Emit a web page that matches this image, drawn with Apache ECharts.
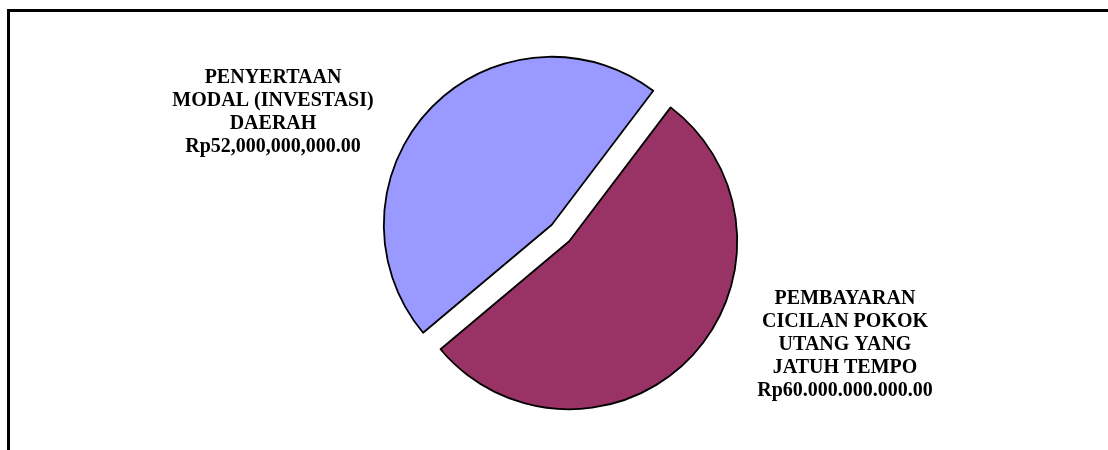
<!DOCTYPE html>
<html>
<head>
<meta charset="utf-8">
<script src="https://cdn.jsdelivr.net/npm/echarts@6/dist/echarts.min.js"></script>
<style>
  html, body { margin: 0; padding: 0; background: #fff; }
  #chart { width: 1108px; height: 450px; }
</style>
</head>
<body>
<div id="chart"></div>
<script>
// Budget allocation: two expenditure items
const categories = [
  'PENYERTAAN\nMODAL (INVESTASI)\nDAERAH',
  'PEMBAYARAN\nCICILAN POKOK\nUTANG YANG\nJATUH TEMPO'
];
const values = [52000000000, 60000000000];
const valueLabels = ['Rp52,000,000,000.00', 'Rp60.000.000.000.00'];
const colors = ['#9999FF', '#993366'];

// label block centres, in pixels
const labelAnchors = [[273, 112.5], [845, 345]];

const chart = echarts.init(document.getElementById('chart'), null, { renderer: 'canvas' });

const data = categories.map((name, i) => ({
  name: name,
  value: values[i],
  selected: true,
  itemStyle: { color: colors[i] },
  select: { itemStyle: { color: colors[i], borderColor: '#000', borderWidth: 1.8 } }
}));

// slice captions: name followed by the amount
const captions = categories.map((name, i) => ({
  type: 'text',
  silent: true,
  x: labelAnchors[i][0],
  y: labelAnchors[i][1],
  style: {
    text: name + '\n' + valueLabels[i],
    fill: '#000',
    font: 'bold 20px "Liberation Serif"',
    lineHeight: 23,
    align: 'center',
    verticalAlign: 'middle'
  }
}));

chart.setOption({
  animation: false,
  backgroundColor: '#fff',
  graphic: [{
    type: 'rect',
    silent: true,
    shape: { x: 8.5, y: 10.5, width: 1200, height: 600 },
    style: { fill: 'none', stroke: '#000', lineWidth: 3 }
  }].concat(captions),
  series: [{
    type: 'pie',
    center: [560.5, 233],
    radius: 168,
    startAngle: 220,
    clockwise: true,
    selectedMode: 'multiple',
    selectedOffset: 12,
    silent: true,
    emphasis: { disabled: true },
    itemStyle: { borderColor: '#000', borderWidth: 1.8 },
    label: { show: false },
    labelLine: { show: false },
    data: data
  }]
});
</script>
</body>
</html>
